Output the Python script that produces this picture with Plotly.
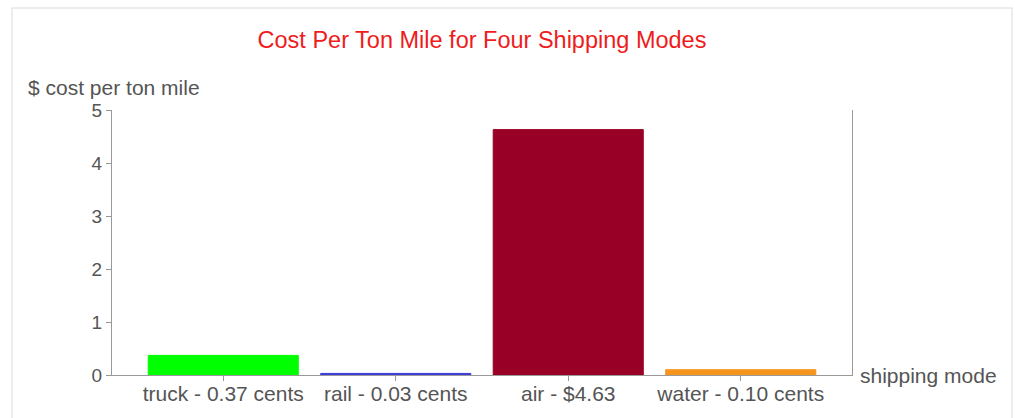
import plotly.graph_objects as go

categories = ["truck - 0.37 cents", "rail - 0.03 cents", "air - $4.63", "water - 0.10 cents"]
values = [0.37, 0.03, 4.63, 0.10]
bar_colors = ["#00ff00", "#3c3cd8", "#990026", "#f7941d"]
y_ticks = [0, 1, 2, 3, 4, 5]

W, H = 1015, 418
L, R, T, B = 112, 852, 110, 375

def px(x):
    return (x - L) / (R - L)

def py(y):
    return (B - y) / (B - T)

FONT = "Liberation Sans, Arial, sans-serif"
TXT = "#555555"

fig = go.Figure(
    go.Bar(
        x=list(range(len(categories))),
        y=values,
        marker=dict(color=bar_colors, line=dict(color=bar_colors, width=1)),
        width=0.87,
        hoverinfo="skip",
    )
)

fig.update_layout(
    width=W,
    height=H,
    margin=dict(l=L, r=W - R, t=T, b=H - B, pad=0, autoexpand=False),
    paper_bgcolor="white",
    plot_bgcolor="white",
    showlegend=False,
    title=dict(
        text="Cost Per Ton Mile for Four Shipping Modes",
        x=0.5,
        xref="paper",
        xanchor="center",
        y=1 - 40 / H,
        yref="container",
        yanchor="middle",
        font=dict(family=FONT, size=23.5, color="#ee1c1c"),
    ),
    xaxis=dict(
        range=[-0.645, 3.645],
        tickmode="array",
        tickvals=list(range(len(categories))),
        ticktext=categories,
        ticks="outside",
        ticklen=5,
        tickcolor="#999999",
        showline=True,
        linecolor="#999999",
        linewidth=1,
        showgrid=False,
        zeroline=False,
        automargin=False,
        ticklabelstandoff=-5,
        tickfont=dict(family=FONT, size=21, color=TXT),
    ),
    yaxis=dict(
        range=[0, 5],
        tickvals=y_ticks,
        ticks="outside",
        ticklen=5,
        tickcolor="#999999",
        showline=True,
        mirror=True,
        linecolor="#999999",
        linewidth=1,
        showgrid=False,
        zeroline=False,
        automargin=False,
        tickfont=dict(family=FONT, size=19, color=TXT),
    ),
    annotations=[
        dict(
            text="$ cost per ton mile",
            xref="paper", yref="paper",
            x=px(26), y=py(87),
            xanchor="left", yanchor="middle",
            showarrow=False,
            font=dict(family=FONT, size=21, color=TXT),
        ),
        dict(
            text="shipping mode",
            xref="paper", yref="paper",
            x=1, y=py(375),
            xanchor="left", yanchor="middle",
            xshift=6,
            showarrow=False,
            font=dict(family=FONT, size=21, color=TXT),
        ),
    ],
    shapes=[
        dict(
            type="rect",
            xref="paper", yref="paper",
            x0=px(12), x1=px(1012), y0=py(440), y1=py(8),
            line=dict(color="#e6e6e6", width=1.5),
            fillcolor="rgba(0,0,0,0)",
            layer="below",
        )
    ],
)

fig.write_html("out.html")
